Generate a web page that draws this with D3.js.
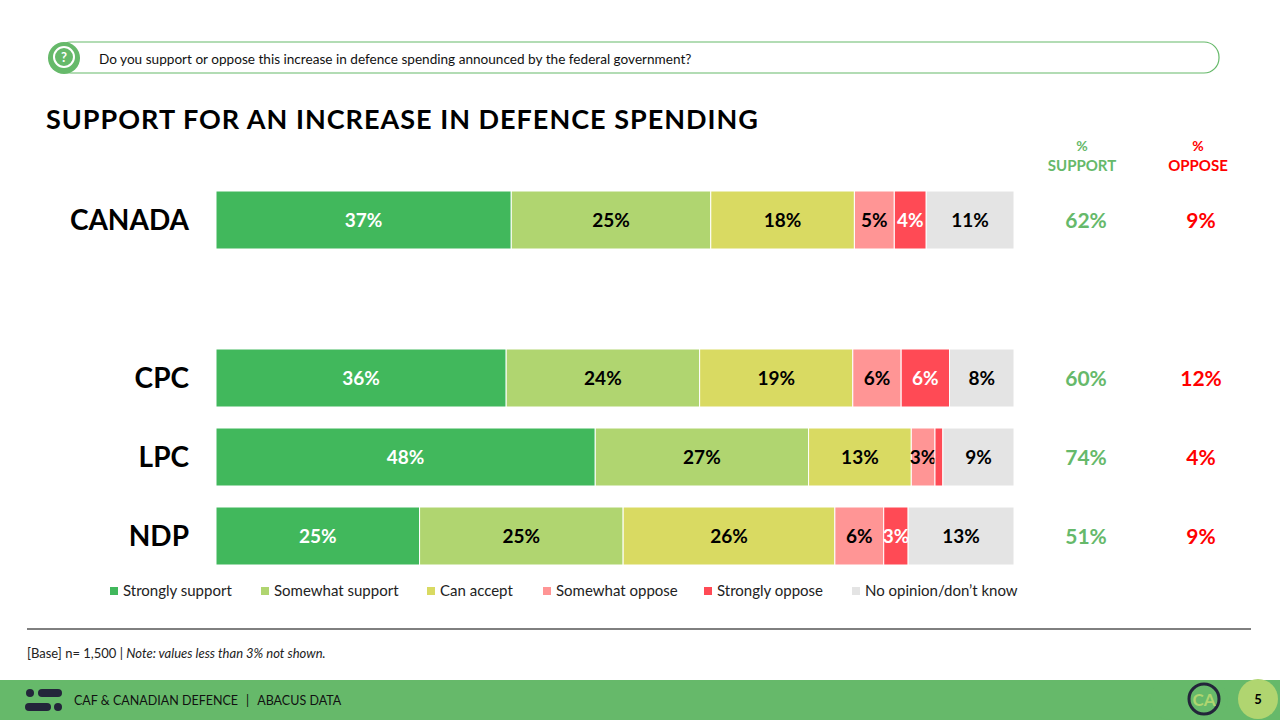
<!DOCTYPE html>
<html>
<head>
<meta charset="utf-8">
<script src="https://d3js.org/d3.v7.min.js"></script>
<style>
  html, body { margin: 0; overflow: hidden; background: #fff; }
  text { font-family: "Lato", "Open Sans", sans-serif; }
</style>
</head>
<body>
<svg id="chart" width="1280" height="720"></svg>
<script>
var groups = ["CANADA", "CPC", "LPC", "NDP"];
var categories = ["Strongly support", "Somewhat support", "Can accept", "Somewhat oppose", "Strongly oppose", "No opinion/don\u2019t know"];
var colors = ["#41b85c", "#b0d570", "#d9da62", "#ff9595", "#ff4a55", "#e4e4e4"];
var values = [
  [37, 25, 18, 5, 4, 11],
  [36, 24, 19, 6, 6, 8],
  [48, 27, 13, 3, 1, 9],
  [25, 25, 26, 6, 3, 13]
];
var support = [62, 60, 74, 51];
var oppose = [9, 12, 4, 9];

var svg = d3.select("#chart");
var green = "#66b96a";

// question box
svg.append("rect").attr("x", 56).attr("y", 42).attr("width", 1163).attr("height", 31)
  .attr("rx", 15).attr("fill", "none").attr("stroke", green).attr("stroke-width", 1.2);
svg.append("circle").attr("cx", 64).attr("cy", 58).attr("r", 16).attr("fill", green);
svg.append("circle").attr("cx", 64).attr("cy", 57).attr("r", 10).attr("fill", "none").attr("stroke", "#fff").attr("stroke-width", 2);
svg.append("text").attr("x", 64).attr("y", 62).attr("text-anchor", "middle").attr("fill", "#fff")
  .attr("font-size", 13).attr("font-weight", "bold").text("?");
svg.append("text").attr("x", 99).attr("y", 64).attr("font-size", 13.6).attr("fill", "#111")
  .text("Do you support or oppose this increase in defence spending announced by the federal government?");

svg.append("text").attr("x", 46).attr("y", 129).attr("font-size", 27).attr("font-weight", "bold").attr("fill", "#000")
  .attr("letter-spacing", 1).text("SUPPORT FOR AN INCREASE IN DEFENCE SPENDING");

// column headers
[["SUPPORT", 1082, green], ["OPPOSE", 1198, "#ff0000"]].forEach(function(h) {
  svg.append("text").attr("x", h[1]).attr("y", 151).attr("text-anchor", "middle").attr("font-size", 14)
    .attr("font-weight", "bold").attr("fill", h[2]).text("%");
  svg.append("text").attr("x", h[1]).attr("y", 171).attr("text-anchor", "middle").attr("font-size", 15)
    .attr("font-weight", "bold").attr("fill", h[2]).text(h[0]);
});

var rowY = [191, 349, 428, 507];
var barH = 58;
var x0 = 216, x1 = 1014;

groups.forEach(function(g, i) {
  var total = d3.sum(values[i]);
  var x = d3.scaleLinear().domain([0, total]).range([x0, x1]);
  var cum = 0;
  var y = rowY[i];
  values[i].forEach(function(v, j) {
    var a = x(cum), b = x(cum + v);
    cum += v;
    svg.append("rect").attr("x", a).attr("y", y).attr("width", b - a).attr("height", barH)
      .attr("fill", colors[j]).attr("stroke", "#fff").attr("stroke-width", 1);
    if (v >= 3) {
      svg.append("text").attr("x", (a + b) / 2).attr("y", y + barH / 2 + 7).attr("text-anchor", "middle")
        .attr("font-size", 19).attr("font-weight", "bold")
        .attr("fill", (j === 0 || j === 4) ? "#fff" : "#000").text(v + "%");
    }
  });
  svg.append("text").attr("x", 189).attr("y", y + barH / 2 + 10).attr("text-anchor", "end")
    .attr("font-size", 28).attr("font-weight", "bold").attr("fill", "#000").text(g);
  svg.append("text").attr("x", 1086).attr("y", y + barH / 2 + 8).attr("text-anchor", "middle")
    .attr("font-size", 21).attr("font-weight", "bold").attr("fill", green).text(support[i] + "%");
  svg.append("text").attr("x", 1201).attr("y", y + barH / 2 + 8).attr("text-anchor", "middle")
    .attr("font-size", 21).attr("font-weight", "bold").attr("fill", "#ff0000").text(oppose[i] + "%");
});

// legend
var legX = [110, 261, 427, 543, 704, 852];
categories.forEach(function(c, j) {
  svg.append("rect").attr("x", legX[j]).attr("y", 587).attr("width", 8).attr("height", 8).attr("fill", colors[j]);
  svg.append("text").attr("x", legX[j] + 13).attr("y", 596).attr("font-size", 15).attr("fill", "#222").text(c);
});

svg.append("line").attr("x1", 27).attr("x2", 1251).attr("y1", 629).attr("y2", 629).attr("stroke", "#000").attr("stroke-width", 1);
var note = svg.append("text").attr("x", 27).attr("y", 658).attr("font-size", 13).attr("fill", "#222");
note.append("tspan").text("[Base] n= 1,500 | ");
note.append("tspan").attr("font-style", "italic").text("Note: values less than 3% not shown.");

// footer
svg.append("rect").attr("x", 0).attr("y", 680).attr("width", 1280).attr("height", 40).attr("fill", green);
svg.append("rect").attr("x", 1150).attr("y", 680).attr("width", 78).attr("height", 40).attr("rx", 20).attr("fill", green);
var navy = "#23253a";
svg.append("circle").attr("cx", 30).attr("cy", 693).attr("r", 4).attr("fill", navy);
svg.append("rect").attr("x", 38).attr("y", 689).attr("width", 24).attr("height", 8).attr("rx", 4).attr("fill", navy);
svg.append("rect").attr("x", 25).attr("y", 703).attr("width", 26).attr("height", 8).attr("rx", 4).attr("fill", navy);
svg.append("circle").attr("cx", 58).attr("cy", 707).attr("r", 4).attr("fill", navy);
var fx = 74;
["CAF & CANADIAN DEFENCE", "|", "ABACUS DATA"].forEach(function(s) {
  var t = svg.append("text").attr("x", fx).attr("y", 705).attr("font-size", 12.5).attr("fill", "#111").text(s);
  fx += t.node().getComputedTextLength() + 8;
});
svg.append("circle").attr("cx", 1204).attr("cy", 699).attr("r", 15).attr("fill", "none").attr("stroke", navy).attr("stroke-width", 3);
svg.append("text").attr("x", 1204).attr("y", 706).attr("text-anchor", "middle").attr("font-size", 17)
  .attr("font-weight", "bold").attr("fill", "#b0d570").text("CA");
svg.append("circle").attr("cx", 1258).attr("cy", 699).attr("r", 20).attr("fill", "#b0d570");
svg.append("text").attr("x", 1258).attr("y", 704).attr("text-anchor", "middle").attr("font-size", 13)
  .attr("font-weight", "bold").attr("fill", "#000").text("5");
</script>
</body>
</html>
